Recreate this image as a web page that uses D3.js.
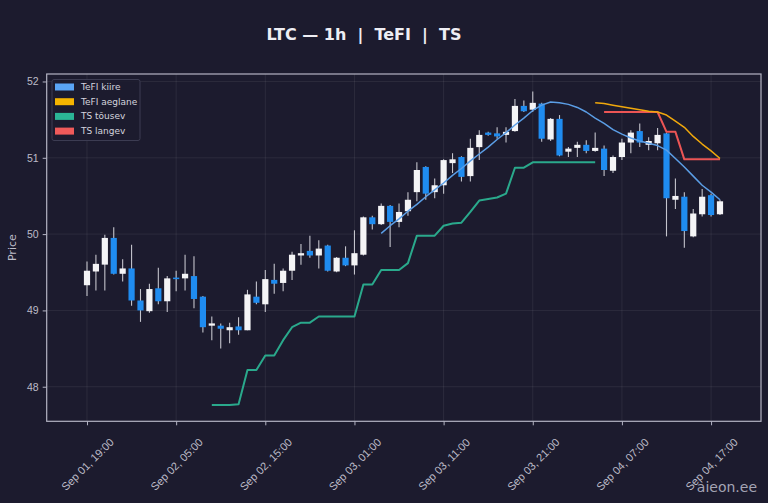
<!DOCTYPE html>
<html>
<head>
<meta charset="utf-8">
<script src="https://d3js.org/d3.v7.min.js"></script>
<style>
  html, body { margin: 0; padding: 0; background: #1c1b2e; }
  svg { display: block; font-family: "DejaVu Sans", sans-serif; }
</style>
</head>
<body>
<svg id="chart"></svg>
<script>
// hourly candles, first one at Sep 01 19:00
const START = new Date(2025, 8, 1, 19, 0);
const opens  = [49.33,49.51,49.60,49.95,49.48,49.55,49.13,48.99,49.29,49.12,49.43,49.42,49.45,49.18,48.80,48.80,48.74,48.79,48.74,49.18,
                49.08,49.40,49.36,49.52,49.72,49.78,49.72,49.85,49.51,49.69,49.59,49.73,50.22,50.13,50.37,50.16,50.30,50.55,50.88,50.55,
                50.64,50.93,51.01,50.76,51.14,51.33,51.32,51.30,51.35,51.68,51.63,51.71,51.24,51.51,51.08,51.13,51.17,51.09,51.12,50.83,
                51.01,51.20,51.35,51.17,51.19,51.32,50.45,50.49,49.97,50.26,50.51,50.26];
const highs  = [49.64,49.73,49.99,50.09,49.67,49.86,49.28,49.35,49.56,49.45,49.52,49.73,49.71,49.19,48.92,48.83,48.84,48.91,49.27,49.38,
                49.53,49.61,49.55,49.77,49.87,49.98,49.92,49.86,49.70,49.84,50.05,50.23,50.24,50.40,50.38,50.40,50.55,50.94,50.89,50.73,
                50.98,51.06,51.02,51.25,51.36,51.34,51.40,51.40,51.77,51.75,51.87,51.72,51.52,51.56,51.14,51.21,51.23,51.33,51.16,51.03,
                51.25,51.36,51.45,51.27,51.39,51.33,50.73,50.55,50.33,50.59,50.53,50.45];
const lows   = [49.19,49.26,49.26,49.47,49.38,49.06,48.85,48.97,49.08,48.98,49.25,49.26,49.03,48.71,48.61,48.50,48.57,48.68,48.74,49.08,
                48.98,49.22,49.25,49.40,49.60,49.69,49.55,49.51,49.50,49.58,49.47,49.72,50.06,50.12,49.83,50.09,50.24,50.43,50.45,50.47,
                50.53,50.80,50.69,50.69,50.97,51.29,51.25,51.20,51.34,51.60,51.60,51.21,51.22,51.02,51.01,51.01,51.06,51.08,50.76,50.80,
                50.97,51.06,51.14,51.10,51.10,49.97,50.33,49.82,49.96,50.23,50.23,50.25];
const closes = [49.52,49.61,49.95,49.48,49.55,49.13,49.00,49.28,49.12,49.42,49.41,49.48,49.15,48.78,48.83,48.76,48.78,48.74,49.21,49.10,
                49.41,49.35,49.52,49.73,49.75,49.72,49.81,49.52,49.69,49.59,49.75,50.22,50.13,50.37,50.16,50.29,50.45,50.84,50.53,50.64,
                50.97,50.98,50.75,51.13,51.30,51.30,51.28,51.34,51.68,51.61,51.72,51.25,51.51,51.03,51.12,51.17,51.09,51.13,50.84,51.01,
                51.20,51.33,51.20,51.22,51.30,50.47,50.50,50.04,50.27,50.49,50.25,50.43];

// indicators, first index given separately
const fastStart = 33;
const tefiFast = [50.01,50.11,50.20,50.30,50.39,50.49,50.58,50.67,50.77,50.86,50.96,51.05,51.14,51.24,51.33,51.43,51.52,51.62,51.69,51.73,
                  51.72,51.70,51.66,51.60,51.52,51.45,51.37,51.31,51.26,51.22,51.19,51.16,51.10,50.99,50.88,50.76,50.64,50.55,50.45];
const slowStart = 57;
const tefiSlow = [51.72,51.71,51.69,51.67,51.65,51.63,51.61,51.60,51.56,51.48,51.40,51.28,51.18,51.09,50.99];
const upStart = 14;
const tsUp = [47.76,47.76,47.76,47.77,48.22,48.22,48.41,48.41,48.61,48.78,48.84,48.84,48.92,48.92,48.92,48.92,48.92,49.34,49.34,49.53,
              49.53,49.53,49.62,49.98,49.98,49.98,50.11,50.14,50.15,50.29,50.44,50.46,50.48,50.53,50.87,50.87,50.94,50.94,50.94,50.94,
              50.94,50.94,50.94,50.94];
const downStart = 58;
const tsDown = [51.60,51.60,51.60,51.60,51.60,51.60,51.60,51.34,51.34,50.98,50.98,50.98,50.98,50.98];

const xTickIdx = [0, 10, 20, 30, 40, 50, 60, 70];
const yTicks = [48, 49, 50, 51, 52];
const legendNames = ["TeFI kiire", "TeFI aeglane", "TS tõusev", "TS langev"];

const W = 768, H = 503;
const PL = 46.7, PR = 761, PT = 74, PB = 421.3;
const COL = {
    bg: "#1c1b2e", spine: "#b4b4c4", grid: "rgba(255,255,255,0.07)", text: "#bcbcc8",
    up: "#f4f4f6", down: "#1f8cf0", wick: "#c4c4cc",
    fast: "#5b9ee6", slow: "#f0a80c", tsUp: "#2aa98c", tsDown: "#ec5555"
};
const legendColors = ["#5aa5f5", "#f5b400", "#2bb596", "#f05a5a"];

const svg = d3.select("#chart").attr("width", W).attr("height", H);
svg.append("rect").attr("width", W).attr("height", H).attr("fill", COL.bg);

const x = d3.scaleLinear().domain([-4.52, 75.6]).range([PL, PR]);
const y = d3.scaleLinear().domain([47.547, 52.098]).range([PB, PT]);
const fmt = d3.timeFormat("%b %d, %H:%M");
const timeOf = i => d3.timeHour.offset(START, i);

// grid
svg.append("g").selectAll("line").data(yTicks).join("line")
    .attr("x1", PL).attr("x2", PR).attr("y1", d => y(d)).attr("y2", d => y(d))
    .attr("stroke", COL.grid);
svg.append("g").selectAll("line").data(xTickIdx).join("line")
    .attr("y1", PT).attr("y2", PB).attr("x1", d => x(d)).attr("x2", d => x(d))
    .attr("stroke", COL.grid);

// axes
const xAxis = svg.append("g").attr("transform", `translate(0,${PB})`)
    .call(d3.axisBottom(x).tickValues(xTickIdx).tickSize(4).tickFormat(i => fmt(timeOf(i))));
xAxis.selectAll("text")
    .attr("fill", COL.text).attr("font-size", 11).attr("text-anchor", "middle")
    .attr("dominant-baseline", "central").attr("y", 0).attr("dy", 0)
    .attr("transform", "translate(0,43) rotate(-45)");

const yAxis = svg.append("g").attr("transform", `translate(${PL},0)`)
    .call(d3.axisLeft(y).tickValues(yTicks).tickSize(4).tickPadding(4).tickFormat(d3.format("d")));
yAxis.selectAll("text").attr("fill", COL.text).attr("font-size", 10.5);
[xAxis, yAxis].forEach(a => {
    a.select(".domain").remove();
    a.selectAll(".tick line").attr("stroke", COL.spine);
});

svg.append("rect").attr("x", PL).attr("y", PT)
    .attr("width", PR - PL).attr("height", PB - PT)
    .attr("fill", "none").attr("stroke", COL.spine).attr("stroke-width", 1.2);

// candles
const candles = opens.map((o, i) => ({ i, o, h: highs[i], l: lows[i], c: closes[i] }));
const bw = 6.2;
const cg = svg.append("g");
cg.selectAll("line").data(candles).join("line")
    .attr("x1", d => x(d.i)).attr("x2", d => x(d.i))
    .attr("y1", d => y(d.h)).attr("y2", d => y(d.l))
    .attr("stroke", COL.wick).attr("stroke-width", 1.1);
cg.selectAll("rect").data(candles).join("rect")
    .attr("x", d => x(d.i) - bw / 2).attr("width", bw)
    .attr("y", d => y(Math.max(d.o, d.c)))
    .attr("height", d => Math.max(1.5, Math.abs(y(d.o) - y(d.c))))
    .attr("fill", d => d.c >= d.o ? COL.up : COL.down);

// indicator lines
const line = d3.line().x(d => x(d[0])).y(d => y(d[1]));
function drawSeries(vals, start, color, width) {
    svg.append("path")
        .datum(vals.map((v, k) => [start + k, v]))
        .attr("d", line).attr("fill", "none")
        .attr("stroke", color).attr("stroke-width", width)
        .attr("stroke-linejoin", "round");
}
drawSeries(tsUp, upStart, COL.tsUp, 2);
drawSeries(tsDown, downStart, COL.tsDown, 2);
drawSeries(tefiSlow, slowStart, COL.slow, 1.5);
drawSeries(tefiFast, fastStart, COL.fast, 1.5);

// legend
const lg = svg.append("g").attr("transform", "translate(52,79.5)");
lg.append("rect").attr("width", 88).attr("height", 61).attr("rx", 2)
    .attr("fill", COL.bg).attr("fill-opacity", 0.85)
    .attr("stroke", "#3c3c52");
legendNames.forEach((name, k) => {
    const row = lg.append("g").attr("transform", `translate(0,${7.2 + k * 14.7})`);
    row.append("rect").attr("x", 3).attr("y", -3.2).attr("width", 19).attr("height", 7)
        .attr("fill", legendColors[k]);
    row.append("text").attr("x", 29).attr("y", 0).attr("dy", "0.35em")
        .attr("fill", "#d4d4de").attr("font-size", 9).text(name);
});

// title, y label, watermark
svg.append("text").attr("x", 364).attr("y", 40).attr("text-anchor", "middle")
    .attr("fill", "#eeeef4").attr("font-size", 16).attr("font-weight", "bold")
    .attr("xml:space", "preserve")
    .text("LTC — 1h  |  TeFI  |  TS");
svg.append("text").attr("transform", `translate(16,${(PT + PB) / 2}) rotate(-90)`)
    .attr("text-anchor", "middle").attr("fill", COL.text).attr("font-size", 11)
    .text("Price");
svg.append("text").attr("x", 757).attr("y", 492).attr("text-anchor", "end")
    .attr("fill", "#a4a4b4").attr("font-size", 14).text("aieon.ee");
</script>
</body>
</html>
